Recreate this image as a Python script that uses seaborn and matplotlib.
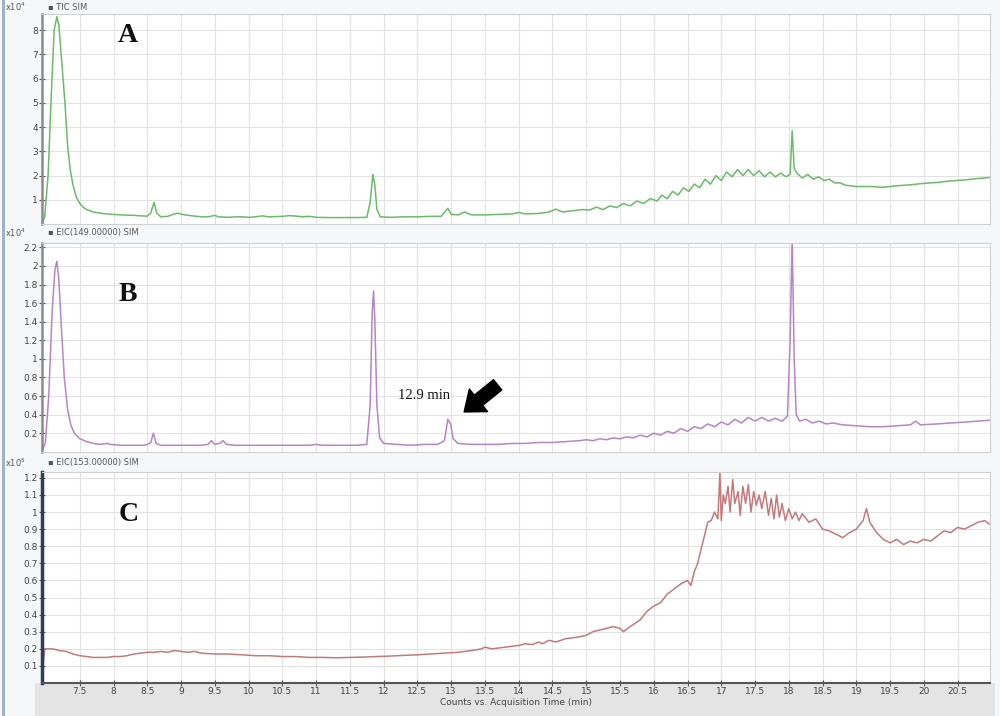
import numpy as np
import pandas as pd
import matplotlib
matplotlib.use("Agg")
import matplotlib.pyplot as plt
from matplotlib.patches import Rectangle
import seaborn as sns

# ---- TIC SIM (panel A, x10^4) ----
a_time = [6.94, 6.98, 7.03, 7.08, 7.12, 7.16, 7.19, 7.23, 7.28, 7.32, 7.36, 7.40, 7.45, 7.50,
          7.55, 7.60, 7.70, 7.80, 7.90, 8.00, 8.10, 8.20, 8.30, 8.40, 8.50, 8.55, 8.60, 8.64,
          8.70, 8.80, 8.90, 8.95, 9.05, 9.20, 9.30, 9.40, 9.50, 9.55, 9.70, 9.80, 9.90, 10.0,
          10.1, 10.2, 10.3, 10.5, 10.6, 10.7, 10.8, 10.9, 11.0, 11.2, 11.4, 11.6, 11.75, 11.80,
          11.84, 11.87, 11.90, 11.95, 12.1, 12.3, 12.5, 12.7, 12.85, 12.92, 12.95, 13.0, 13.1,
          13.2, 13.3, 13.5, 13.7, 13.9, 14.0, 14.1, 14.3, 14.45, 14.55, 14.65, 14.8, 14.95,
          15.05, 15.15, 15.25, 15.35, 15.45, 15.55, 15.65, 15.75, 15.85, 15.95, 16.05, 16.12,
          16.2, 16.28, 16.36, 16.44, 16.52, 16.6, 16.68, 16.76, 16.84, 16.92, 17.0, 17.08,
          17.16, 17.24, 17.32, 17.4, 17.48, 17.56, 17.64, 17.72, 17.8, 17.88, 17.96, 18.02,
          18.05, 18.08, 18.12, 18.2, 18.28, 18.36, 18.44, 18.52, 18.6, 18.68, 18.76, 18.84,
          18.92, 19.0, 19.2, 19.4, 19.6, 19.8, 20.0, 20.2, 20.4, 20.6, 20.8, 20.97]
a_counts = [0.0, 0.3, 2.0, 5.5, 8.0, 8.55, 8.2, 6.8, 5.0, 3.2, 2.2, 1.6, 1.1, 0.85,
            0.7, 0.6, 0.5, 0.45, 0.42, 0.4, 0.38, 0.37, 0.36, 0.34, 0.33, 0.45, 0.9, 0.45,
            0.3, 0.32, 0.42, 0.45, 0.38, 0.33, 0.30, 0.30, 0.36, 0.30, 0.28, 0.30, 0.30, 0.28,
            0.30, 0.34, 0.30, 0.32, 0.35, 0.33, 0.30, 0.32, 0.28, 0.27, 0.27, 0.27, 0.28, 0.9,
            2.05, 1.6, 0.6, 0.3, 0.28, 0.30, 0.30, 0.32, 0.32, 0.55, 0.65, 0.4, 0.38,
            0.5, 0.38, 0.38, 0.40, 0.42, 0.48, 0.42, 0.44, 0.5, 0.62, 0.5, 0.55, 0.6,
            0.58, 0.7, 0.6, 0.75, 0.68, 0.85, 0.75, 0.95, 0.85, 1.05, 0.95, 1.2,
            1.05, 1.35, 1.2, 1.5, 1.35, 1.65, 1.5, 1.85, 1.65, 2.0, 1.8, 2.15,
            1.95, 2.25, 2.0, 2.25, 2.0, 2.2, 1.95, 2.15, 1.95, 2.1, 1.95, 2.05,
            3.85, 2.3, 2.1, 1.9, 2.05, 1.85, 1.95, 1.8, 1.85, 1.7, 1.7, 1.6,
            1.58, 1.55, 1.55, 1.52, 1.58, 1.62, 1.68, 1.72, 1.78, 1.82, 1.88, 1.92]

# ---- EIC(149) SIM (panel B, x10^4) ----
b_time = [6.94, 6.99, 7.04, 7.09, 7.13, 7.16, 7.19, 7.23, 7.27, 7.32, 7.37, 7.42, 7.5, 7.6,
          7.7, 7.8, 7.9, 7.95, 8.1, 8.3, 8.45, 8.5, 8.55, 8.59, 8.63, 8.7, 8.9, 9.1, 9.3,
          9.4, 9.45, 9.5, 9.57, 9.62, 9.67, 9.8, 10.0, 10.3, 10.6, 10.9, 11.0, 11.1, 11.4,
          11.6, 11.75, 11.8, 11.83, 11.85, 11.87, 11.9, 11.94, 12.0, 12.2, 12.4, 12.6, 12.8,
          12.9, 12.95, 12.99, 13.03, 13.1, 13.3, 13.5, 13.7, 13.9, 14.1, 14.3, 14.5, 14.7,
          14.9, 15.0, 15.1, 15.2, 15.3, 15.4, 15.5, 15.6, 15.7, 15.8, 15.9, 16.0, 16.1, 16.2,
          16.3, 16.4, 16.5, 16.6, 16.7, 16.8, 16.9, 17.0, 17.1, 17.2, 17.3, 17.4, 17.5, 17.6,
          17.7, 17.8, 17.9, 17.98, 18.02, 18.05, 18.08, 18.11, 18.16, 18.25, 18.35, 18.45,
          18.55, 18.65, 18.8, 19.0, 19.2, 19.4, 19.6, 19.8, 19.88, 19.95, 20.2, 20.4, 20.6,
          20.8, 20.97]
b_counts = [0.0, 0.1, 0.6, 1.5, 1.95, 2.05, 1.85, 1.3, 0.8, 0.45, 0.28, 0.2, 0.14, 0.11,
            0.09, 0.08, 0.09, 0.08, 0.07, 0.07, 0.07, 0.08, 0.1, 0.2, 0.09, 0.07, 0.07, 0.07, 0.07,
            0.08, 0.12, 0.08, 0.09, 0.12, 0.08, 0.07, 0.07, 0.07, 0.07, 0.07, 0.08, 0.07, 0.07,
            0.07, 0.08, 0.5, 1.5, 1.73, 1.4, 0.5, 0.15, 0.09, 0.08, 0.07, 0.08, 0.08,
            0.12, 0.35, 0.3, 0.14, 0.09, 0.08, 0.08, 0.08, 0.09, 0.09, 0.10, 0.10, 0.11,
            0.12, 0.13, 0.12, 0.14, 0.13, 0.15, 0.14, 0.16, 0.15, 0.18, 0.16, 0.2, 0.18, 0.22,
            0.2, 0.25, 0.22, 0.27, 0.25, 0.3, 0.27, 0.32, 0.29, 0.35, 0.31, 0.37, 0.33, 0.37,
            0.33, 0.36, 0.33, 0.38, 1.2, 2.3, 1.0, 0.4, 0.33, 0.35, 0.31, 0.33,
            0.30, 0.31, 0.29, 0.28, 0.27, 0.27, 0.28, 0.29, 0.33, 0.29, 0.3, 0.31, 0.32,
            0.33, 0.34]

# ---- EIC(153) SIM (panel C, x10^5) ----
c_time = [6.94, 6.96, 6.98, 7.05, 7.1, 7.2, 7.3, 7.4, 7.5, 7.6, 7.7, 7.8, 7.9, 8.0, 8.1,
          8.2, 8.3, 8.4, 8.5, 8.6, 8.7, 8.8, 8.9, 9.0, 9.1, 9.2, 9.3, 9.5, 9.7, 9.9, 10.1,
          10.3, 10.5, 10.7, 10.9, 11.1, 11.3, 11.5, 11.7, 11.9, 12.1, 12.3, 12.5, 12.7, 12.9,
          13.1, 13.3, 13.45, 13.5, 13.6, 13.8, 14.0, 14.1, 14.2, 14.3, 14.35, 14.45, 14.55,
          14.7, 14.9, 15.0, 15.1, 15.2, 15.3, 15.4, 15.5, 15.55, 15.65, 15.8, 15.9, 16.0,
          16.1, 16.2, 16.3, 16.4, 16.5, 16.55, 16.6, 16.65, 16.7, 16.75, 16.8, 16.85, 16.9,
          16.95, 16.98, 17.0, 17.03, 17.06, 17.1, 17.13, 17.17, 17.2, 17.25, 17.28, 17.32,
          17.36, 17.4, 17.44, 17.48, 17.52, 17.56, 17.6, 17.65, 17.7, 17.74, 17.78, 17.82,
          17.86, 17.9, 17.95, 18.0, 18.05, 18.1, 18.15, 18.2, 18.3, 18.4, 18.5, 18.6, 18.7,
          18.8, 18.9, 19.0, 19.1, 19.15, 19.2, 19.3, 19.4, 19.5, 19.6, 19.7, 19.8, 19.9,
          20.0, 20.1, 20.2, 20.3, 20.4, 20.5, 20.6, 20.7, 20.8, 20.9, 20.97]
c_counts = [0.0, 0.12, 0.2, 0.2, 0.2, 0.19, 0.185, 0.17, 0.16, 0.155, 0.15, 0.15, 0.15, 0.155, 0.155,
            0.16, 0.17, 0.175, 0.18, 0.18, 0.185, 0.18, 0.19, 0.185, 0.18, 0.185, 0.175, 0.17, 0.17, 0.165, 0.16,
            0.16, 0.155, 0.155, 0.15, 0.15, 0.148, 0.15, 0.152, 0.155, 0.158, 0.162, 0.165, 0.17, 0.175,
            0.18, 0.19, 0.2, 0.21, 0.2, 0.21, 0.22, 0.23, 0.225, 0.24, 0.23, 0.25, 0.24,
            0.26, 0.27, 0.28, 0.30, 0.31, 0.32, 0.33, 0.32, 0.30, 0.33, 0.37, 0.42, 0.45,
            0.47, 0.52, 0.55, 0.58, 0.6, 0.57, 0.65, 0.7, 0.78, 0.86, 0.94, 0.95, 1.0,
            0.96, 1.23, 0.95, 1.1, 1.05, 1.15, 1.0, 1.19, 1.05, 1.12, 0.98, 1.15,
            1.05, 1.16, 1.0, 1.12, 1.04, 1.1, 1.02, 1.12, 0.98, 1.08, 0.96, 1.1,
            0.97, 1.05, 0.95, 1.02, 0.96, 1.0, 0.95, 0.99, 0.94, 0.96, 0.9, 0.89, 0.87,
            0.85, 0.88, 0.9, 0.95, 1.02, 0.94, 0.88, 0.84, 0.82, 0.84, 0.81, 0.83, 0.82,
            0.84, 0.83, 0.86, 0.89, 0.88, 0.91, 0.9, 0.92, 0.94, 0.95, 0.93]

x_ticks = [7.5, 8, 8.5, 9, 9.5, 10, 10.5, 11, 11.5, 12, 12.5, 13, 13.5, 14, 14.5, 15, 15.5,
           16, 16.5, 17, 17.5, 18, 18.5, 19, 19.5, 20, 20.5]
a_ticks = [1, 2, 3, 4, 5, 6, 7, 8]
b_ticks = [0.2, 0.4, 0.6, 0.8, 1, 1.2, 1.4, 1.6, 1.8, 2, 2.2]
c_ticks = [0.1, 0.2, 0.3, 0.4, 0.5, 0.6, 0.7, 0.8, 0.9, 1, 1.1, 1.2]

sns.set_theme(style="whitegrid")
plt.rcParams['font.family'] = ['DejaVu Sans']

fig = plt.figure(figsize=(10, 7.16), dpi=100)
fig.patch.set_facecolor('#f6f7f8')
# gray band under the bottom axis
fig.add_artist(Rectangle((0.035, 0.0), 0.96, 0.046, transform=fig.transFigure,
                         facecolor='#e4e4e4', edgecolor='none', zorder=0))
fig.add_artist(Rectangle((0.002, 0.0), 0.003, 1.0, transform=fig.transFigure,
                         facecolor='#9fb3c8', edgecolor='none', zorder=0))

panels = [
    dict(t=a_time, v=a_counts, ticks=a_ticks, top=8.65, color='#6cba6b',
         rect=[0.042, 0.687, 0.948, 0.293], letter='A', ly=0.9,
         exp='4', name='TIC SIM', hy=1 - 7 / 716, spine='#8a8a8a'),
    dict(t=b_time, v=b_counts, ticks=b_ticks, top=2.25, color='#b585c6',
         rect=[0.042, 0.369, 0.948, 0.292], letter='B', ly=0.75,
         exp='4', name='EIC(149.00000) SIM', hy=1 - 233 / 716, spine='#8a8a8a'),
    dict(t=c_time, v=c_counts, ticks=c_ticks, top=1.235, color='#c27a7c',
         rect=[0.042, 0.046, 0.948, 0.295], letter='C', ly=0.80,
         exp='5', name='EIC(153.00000) SIM', hy=1 - 463 / 716, spine='#2c3e5a'),
]

axes = []
for i, p in enumerate(panels):
    ax = fig.add_axes(p['rect'])
    ax.set_facecolor('white')
    sns.lineplot(x=p['t'], y=p['v'], ax=ax, color=p['color'], linewidth=1.1)
    ax.set_xlim(6.94, 20.98)
    ax.set_ylim(0, p['top'])
    ax.set_xticks(x_ticks)
    ax.set_yticks(p['ticks'])
    ax.set_yticklabels(['%g' % v for v in p['ticks']])
    ax.grid(True, color='#e2e2e2', linewidth=0.8)
    ax.tick_params(axis='y', direction='inout', length=4, width=0.8, color='#555555',
                   labelsize=6.5, labelcolor='#444444', pad=1, left=True)
    for s in ['top', 'right', 'bottom']:
        ax.spines[s].set_color('#d0d0d0')
        ax.spines[s].set_linewidth(0.8)
    ax.spines['left'].set_color(p['spine'])
    ax.spines['left'].set_linewidth(2.5 if i == 2 else 1.8)
    if i < 2:
        ax.tick_params(axis='x', labelbottom=False, length=0)
    else:
        ax.set_xticklabels(['%g' % v for v in x_ticks])
        ax.tick_params(axis='x', direction='inout', length=4, width=0.8, color='#555555',
                       labelsize=6.5, labelcolor='#444444', pad=1, bottom=True)
        ax.spines['bottom'].set_color('#555555')
        ax.spines['bottom'].set_linewidth(1.5)
        ax.set_xlabel('Counts vs. Acquisition Time (min)', fontsize=6.5, color='#444444',
                      labelpad=1)
    ax.set_ylabel('')
    ax.text(0.091, p['ly'], p['letter'], transform=ax.transAxes, ha='center', va='center',
            fontsize=20, fontweight='bold', family='Liberation Serif', color='#111111')
    fig.text(0.005, p['hy'], 'x10$^{%s}$' % p['exp'], fontsize=6, color='#555555',
             va='center')
    fig.text(0.048, p['hy'], '\u25aa ' + p['name'], fontsize=6, color='#555555',
             va='center')
    axes.append(ax)

# 12.9 min annotation on panel B
ax_b = axes[1]
ax_b.text(12.6, 0.61, '12.9 min', ha='center', va='center', fontsize=10.5,
          family='Liberation Serif', color='#111111')
ax_b.annotate('', xy=(13.16, 0.41), xytext=(13.72, 0.74),
              arrowprops=dict(arrowstyle='simple,head_length=0.7,head_width=1.1,tail_width=0.5',
                              color='black', mutation_scale=19))

fig.savefig('out.png', dpi=100, facecolor=fig.get_facecolor())
